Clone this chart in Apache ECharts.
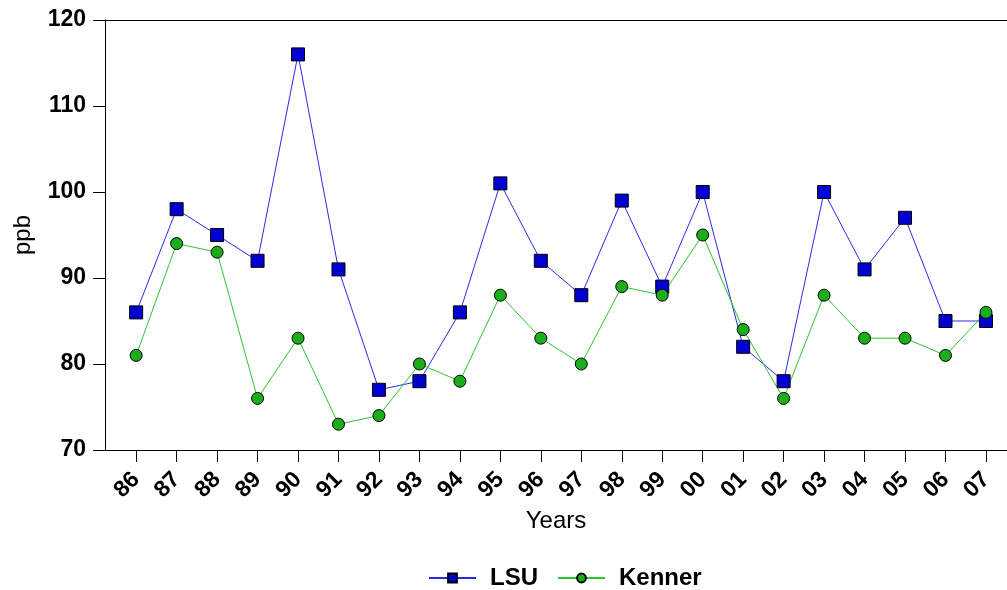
<!DOCTYPE html>
<html>
<head>
<meta charset="utf-8">
<script src="https://cdn.jsdelivr.net/npm/echarts@6/dist/echarts.min.js"></script>
<style>html,body{margin:0;padding:0;background:#fff}#c{width:1007px;height:590px}</style>
</head>
<body>
<div id="c"></div>
<script>
const years = ['86','87','88','89','90','91','92','93','94','95','96','97','98','99','00','01','02','03','04','05','06','07'];
const lsu = [86,98,95,92,116,91,77,78,86,101,92,88,99,89,100,82,78,100,91,97,85,85];
const kenner = [81,94,93,76,83,73,74,80,78,88,83,80,89,88,95,84,76,88,83,83,81,86];
const yTicks = [70,80,90,100,110,120];

const idx = years.map((_, i) => i);
const chart = echarts.init(document.getElementById('c'), null, {renderer:'canvas'});
const FONT = '"Liberation Sans", Arial, sans-serif';
chart.setOption({
  animation:false,
  backgroundColor:'#fff',
  grid:{left:105, top:20, right:0, bottom:140},
  legend:{
    top:561, left:423,
    itemWidth:47, itemHeight:11, itemGap:19,
    textStyle:{fontFamily:FONT, fontSize:24, fontWeight:'bold', color:'#000', padding:[0,0,0,9]},
    data:['LSU','Kenner']
  },
  xAxis:[{
    type:'value', min:-0.77, max:21.52,
    name:'Years', nameLocation:'middle', nameGap:59,
    nameTextStyle:{fontFamily:FONT, fontSize:24, color:'#000'},
    axisLine:{onZero:false, lineStyle:{color:'#000', width:1}},
    axisTick:{show:true, length:12, customValues:idx, lineStyle:{color:'#000'}},
    axisLabel:{customValues:idx, rotate:45, margin:26, fontFamily:FONT, fontSize:23, fontWeight:'bold', color:'#000',
      formatter:v => years[Math.round(v)]},
    splitLine:{show:false}
  },{
    type:'value', position:'top', min:-0.77, max:21.52,
    axisLine:{show:true, onZero:false, lineStyle:{color:'#000', width:1}},
    axisTick:{show:false}, axisLabel:{show:false}, splitLine:{show:false}
  }],
  yAxis:{
    type:'value', min:70, max:120, interval:10,
    name:'ppb', nameLocation:'middle', nameGap:70,
    nameTextStyle:{fontFamily:FONT, fontSize:24, color:'#000'},
    axisLine:{show:true, onZero:false, lineStyle:{color:'#000', width:1}},
    axisTick:{show:true, length:12, lineStyle:{color:'#000'}},
    axisLabel:{margin:19, fontFamily:FONT, fontSize:23, fontWeight:'bold', color:'#000',
      formatter:v => yTicks.includes(v) ? String(v) : ''},
    splitLine:{show:false}
  },
  series:[{
    name:'LSU', type:'line',
    data:lsu.map((v,i)=>[i,v]),
    symbol:'rect', symbolSize:13,
    lineStyle:{color:'#2a2ae6', width:1},
    itemStyle:{color:'#0000d0', borderColor:'#000', borderWidth:1}
  },{
    name:'Kenner', type:'line',
    data:kenner.map((v,i)=>[i,v]),
    symbol:'circle', symbolSize:12,
    lineStyle:{color:'#2ec42e', width:1},
    itemStyle:{color:'#1aae1a', borderColor:'#000', borderWidth:1}
  }]
});
</script>
</body>
</html>
